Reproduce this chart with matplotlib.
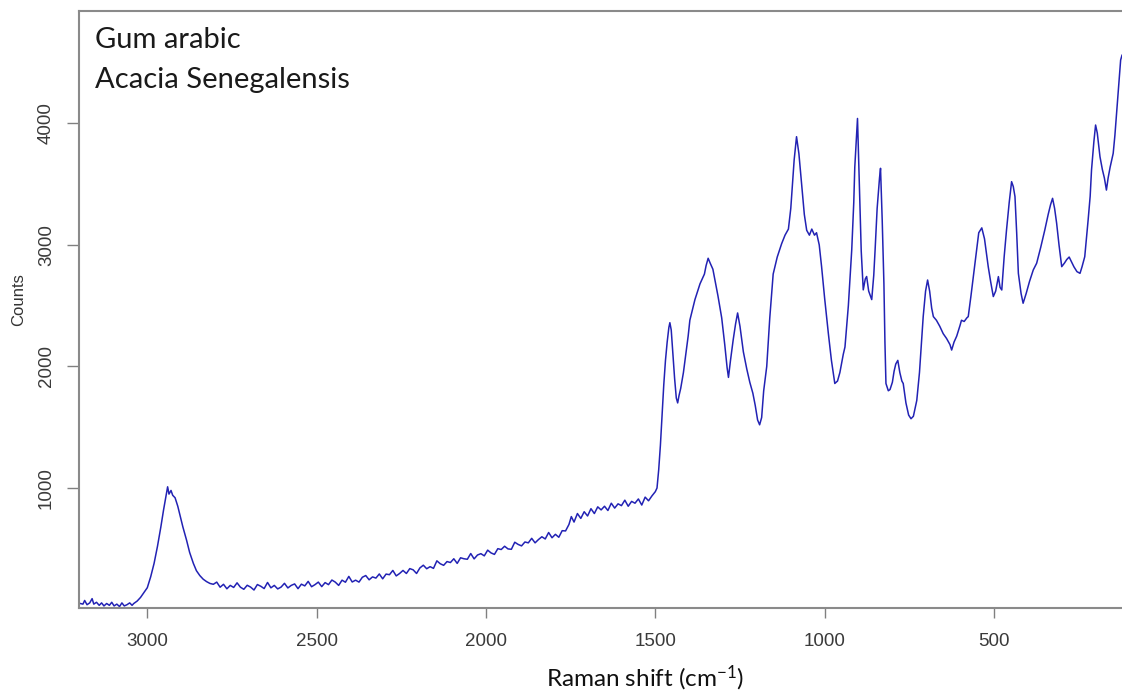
import matplotlib
matplotlib.use("Agg")
import matplotlib.pyplot as plt

# ---- data ----
shift = [3198, 3190, 3185, 3178, 3170, 3163, 3158, 3150, 3142, 3135, 3128, 3120, 3112, 3105,
         3098, 3090, 3082, 3075, 3068, 3060, 3052, 3045, 3040, 3030, 3020, 3010, 3000, 2990,
         2980, 2970, 2960, 2952, 2945, 2940, 2936, 2930, 2925, 2918, 2910, 2903, 2895, 2884,
         2875, 2864, 2855, 2845, 2835, 2825, 2815, 2805, 2795, 2785, 2775, 2765, 2755, 2745,
         2735, 2725, 2715, 2705, 2695, 2685, 2675, 2665, 2655, 2645, 2635, 2625, 2615, 2605,
         2595, 2585, 2575, 2565, 2555, 2545, 2535, 2525, 2515, 2505, 2495, 2485, 2475, 2465,
         2455, 2445, 2435, 2425, 2415, 2405, 2395, 2385, 2375, 2365, 2355, 2345, 2335, 2325,
         2315, 2305, 2295, 2285, 2275, 2265, 2255, 2245, 2235, 2225, 2215, 2205, 2195, 2185,
         2175, 2165, 2155, 2145, 2135, 2125, 2115, 2105, 2095, 2085, 2075, 2065, 2055, 2045,
         2035, 2025, 2015, 2005, 1995, 1985, 1975, 1965, 1955, 1945, 1935, 1925, 1915, 1905,
         1895, 1885, 1875, 1865, 1855, 1845, 1835, 1825, 1815, 1805, 1795, 1785, 1775, 1765,
         1755, 1748, 1740, 1730, 1720, 1710, 1700, 1690, 1680, 1670, 1660, 1650, 1640, 1630,
         1620, 1610, 1600, 1590, 1580, 1570, 1560, 1550, 1540, 1530, 1520, 1510, 1500, 1495,
         1490, 1485, 1480, 1475, 1470, 1465, 1460, 1457, 1453, 1448, 1443, 1438, 1434, 1430,
         1425, 1417, 1410, 1403, 1398, 1390, 1383, 1375, 1368, 1363, 1355, 1350, 1344, 1338,
         1330, 1324, 1315, 1304, 1295, 1288, 1284, 1278, 1270, 1263, 1257, 1250, 1240, 1230,
         1221, 1212, 1205, 1198, 1192, 1186, 1180, 1171, 1162, 1152, 1140, 1127, 1117, 1107,
         1100, 1097, 1090, 1083, 1076, 1068, 1060, 1053, 1045, 1038, 1030, 1024, 1016, 1009,
         1000, 989, 980, 970, 962, 955, 945, 940, 930, 920, 914, 911, 906, 903, 900, 896, 892,
         886, 880, 876, 870, 861, 855, 851, 845, 838, 835, 830, 825, 822, 819, 812, 807, 800,
         795, 790, 784, 778, 772, 768, 760, 752, 745, 738, 728, 720, 714, 709, 702, 696, 690,
         684, 679, 670, 660, 650, 640, 630, 625, 618, 610, 600, 596, 588, 580, 576, 568, 561,
         552, 545, 536, 528, 517, 510, 502, 495, 487, 482, 477, 470, 463, 455, 448, 443, 438,
         433, 428, 420, 414, 405, 395, 384, 374, 362, 350, 340, 333, 327, 321, 315, 308, 300,
         292, 285, 278, 271, 264, 255, 246, 240, 232, 222, 216, 212, 205, 200, 195, 187, 180,
         174, 168, 163, 157, 148, 143, 138, 132, 126, 122]

counts = [50, 45, 75, 40, 55, 90, 45, 60, 35, 55, 30, 50, 35, 60,
          30, 45, 25, 55, 30, 40, 55, 35, 50, 70, 100, 140, 180, 270,
          380, 520, 680, 820, 930, 1010, 950, 980, 940, 920, 850, 770, 680, 570,
          470, 380, 320, 280, 250, 230, 215,
          208, 226, 184, 208, 171, 199, 182, 220, 184, 167, 200, 185, 161, 206, 192, 173,
          223, 179, 199, 170, 185, 216, 178, 199, 211, 172, 209, 195, 232, 188, 205, 226,
          189, 222, 205, 243, 226, 199, 242, 225, 273, 227, 242, 226, 266, 280, 245, 269,
          259, 293, 253, 292, 287, 322, 277, 297, 322, 297, 337, 327, 297, 343, 365, 336,
          353, 339, 401, 377, 364, 395, 387, 418, 380, 426, 418, 414, 461, 417, 449, 460,
          442, 489, 466, 454, 501, 494, 521, 499, 496, 554, 536, 524, 556, 549, 586, 549,
          576, 599, 581, 634, 591, 619, 595, 649, 647,
          700, 765, 720, 790, 750, 805, 770, 830, 790, 845, 820, 850, 815, 875,
          835, 870, 855, 900, 850, 890, 875, 910, 860, 925, 895, 935, 970, 1000,
          1150, 1350, 1600, 1850, 2050, 2200, 2320, 2360, 2300, 2100, 1900, 1740, 1700, 1760,
          1820, 1950, 2100, 2250, 2380, 2470, 2550, 2620, 2680, 2710, 2760, 2830, 2890, 2850,
          2800, 2710, 2580, 2400, 2180, 1990, 1910, 2050, 2220, 2350, 2440, 2330, 2120, 1980,
          1870, 1780, 1680, 1560, 1520, 1580, 1800, 2000, 2400, 2760, 2900, 3010, 3080, 3130,
          3300, 3420, 3700, 3890, 3750, 3500, 3250, 3120, 3080, 3130, 3080, 3100, 3000, 2820,
          2560, 2270, 2050, 1860, 1880, 1950, 2100, 2160, 2500, 2960, 3350, 3640, 3900, 4040, 3750, 3370, 2950,
          2630, 2720, 2740, 2620, 2550, 2750, 2960, 3300, 3550, 3630, 3200, 2680, 2200, 1860, 1800, 1810, 1870,
          1960, 2020, 2050, 1950, 1880, 1860, 1700, 1600, 1570, 1590, 1720, 1950, 2200, 2410, 2620, 2711, 2620,
          2480, 2410, 2380, 2330, 2270, 2230, 2180, 2135, 2200, 2250, 2340, 2380, 2370, 2400, 2410, 2580, 2739,
          2950, 3100, 3140, 3050, 2821, 2700, 2575, 2620, 2739, 2650, 2629, 2900, 3122, 3350, 3520, 3480, 3397,
          3100, 2766, 2600, 2520, 2600, 2700, 2794, 2849, 2980, 3122, 3250, 3330, 3383, 3300, 3178, 3000, 2821,
          2850, 2880, 2900, 2860, 2820, 2780, 2766, 2820, 2903, 3205, 3400, 3616, 3850, 3986, 3920, 3725, 3620,
          3550, 3451, 3550, 3640, 3753, 3900, 4082, 4300, 4521, 4560]

x_ticks = [3000, 2500, 2000, 1500, 1000, 500]
y_ticks = [1000, 2000, 3000, 4000]
title_lines = ["Gum arabic", "Acacia Senegalensis"]

# ---- figure ----
W, H = 1122, 692
fig = plt.figure(figsize=(W / 100, H / 100), dpi=100)
left, right, bottom, top = 79.3, 1122, 608, 11
ax = fig.add_axes([left / W, 1 - bottom / H, (right - left) / W, (bottom - top) / H])

ax.plot(shift, counts, color="#2222b4", lw=1.1)
ax.set_xlim(3200.8, 122)
ax.set_ylim(13, 4924)

ax.set_xticks(x_ticks)
ax.set_yticks(y_ticks)
ax.set_xticklabels([str(t) for t in x_ticks], fontfamily="Liberation Sans",
                   fontsize=13.5, color="#3a3a3a")
ax.set_yticklabels([str(t) for t in y_ticks], fontfamily="Liberation Sans",
                   fontsize=13.5, color="#3a3a3a", rotation=90, va="center")
ax.tick_params(axis="x", length=7.2, width=1.0, color="#808080", pad=11)
ax.tick_params(axis="y", length=8.5, width=1.0, color="#808080", pad=9)

for side in ["left", "top", "bottom"]:
    ax.spines[side].set_color("#8a8a8a")
    ax.spines[side].set_linewidth(1.5)
ax.spines["right"].set_visible(False)

fig.text(19 / W, 1 - 300 / H, "Counts", rotation=90, ha="center", va="center",
         fontfamily="Liberation Sans", fontsize=12, color="#333333")

plt.rcParams["mathtext.default"] = "regular"
fig.text(546 / W, 1 - 686 / H, "Raman shift (cm$^{-1}$)", ha="left", va="baseline",
         fontfamily="Lato", fontsize=17.5, color="#111111")

fig.text(95 / W, 1 - 48 / H, title_lines[0], ha="left", va="baseline",
         fontfamily="Lato", fontsize=21, color="#1a1a1a")
fig.text(95 / W, 1 - 88 / H, title_lines[1], ha="left", va="baseline",
         fontfamily="Lato", fontsize=21, color="#1a1a1a")

fig.savefig("out.png", dpi=100, facecolor="white")
